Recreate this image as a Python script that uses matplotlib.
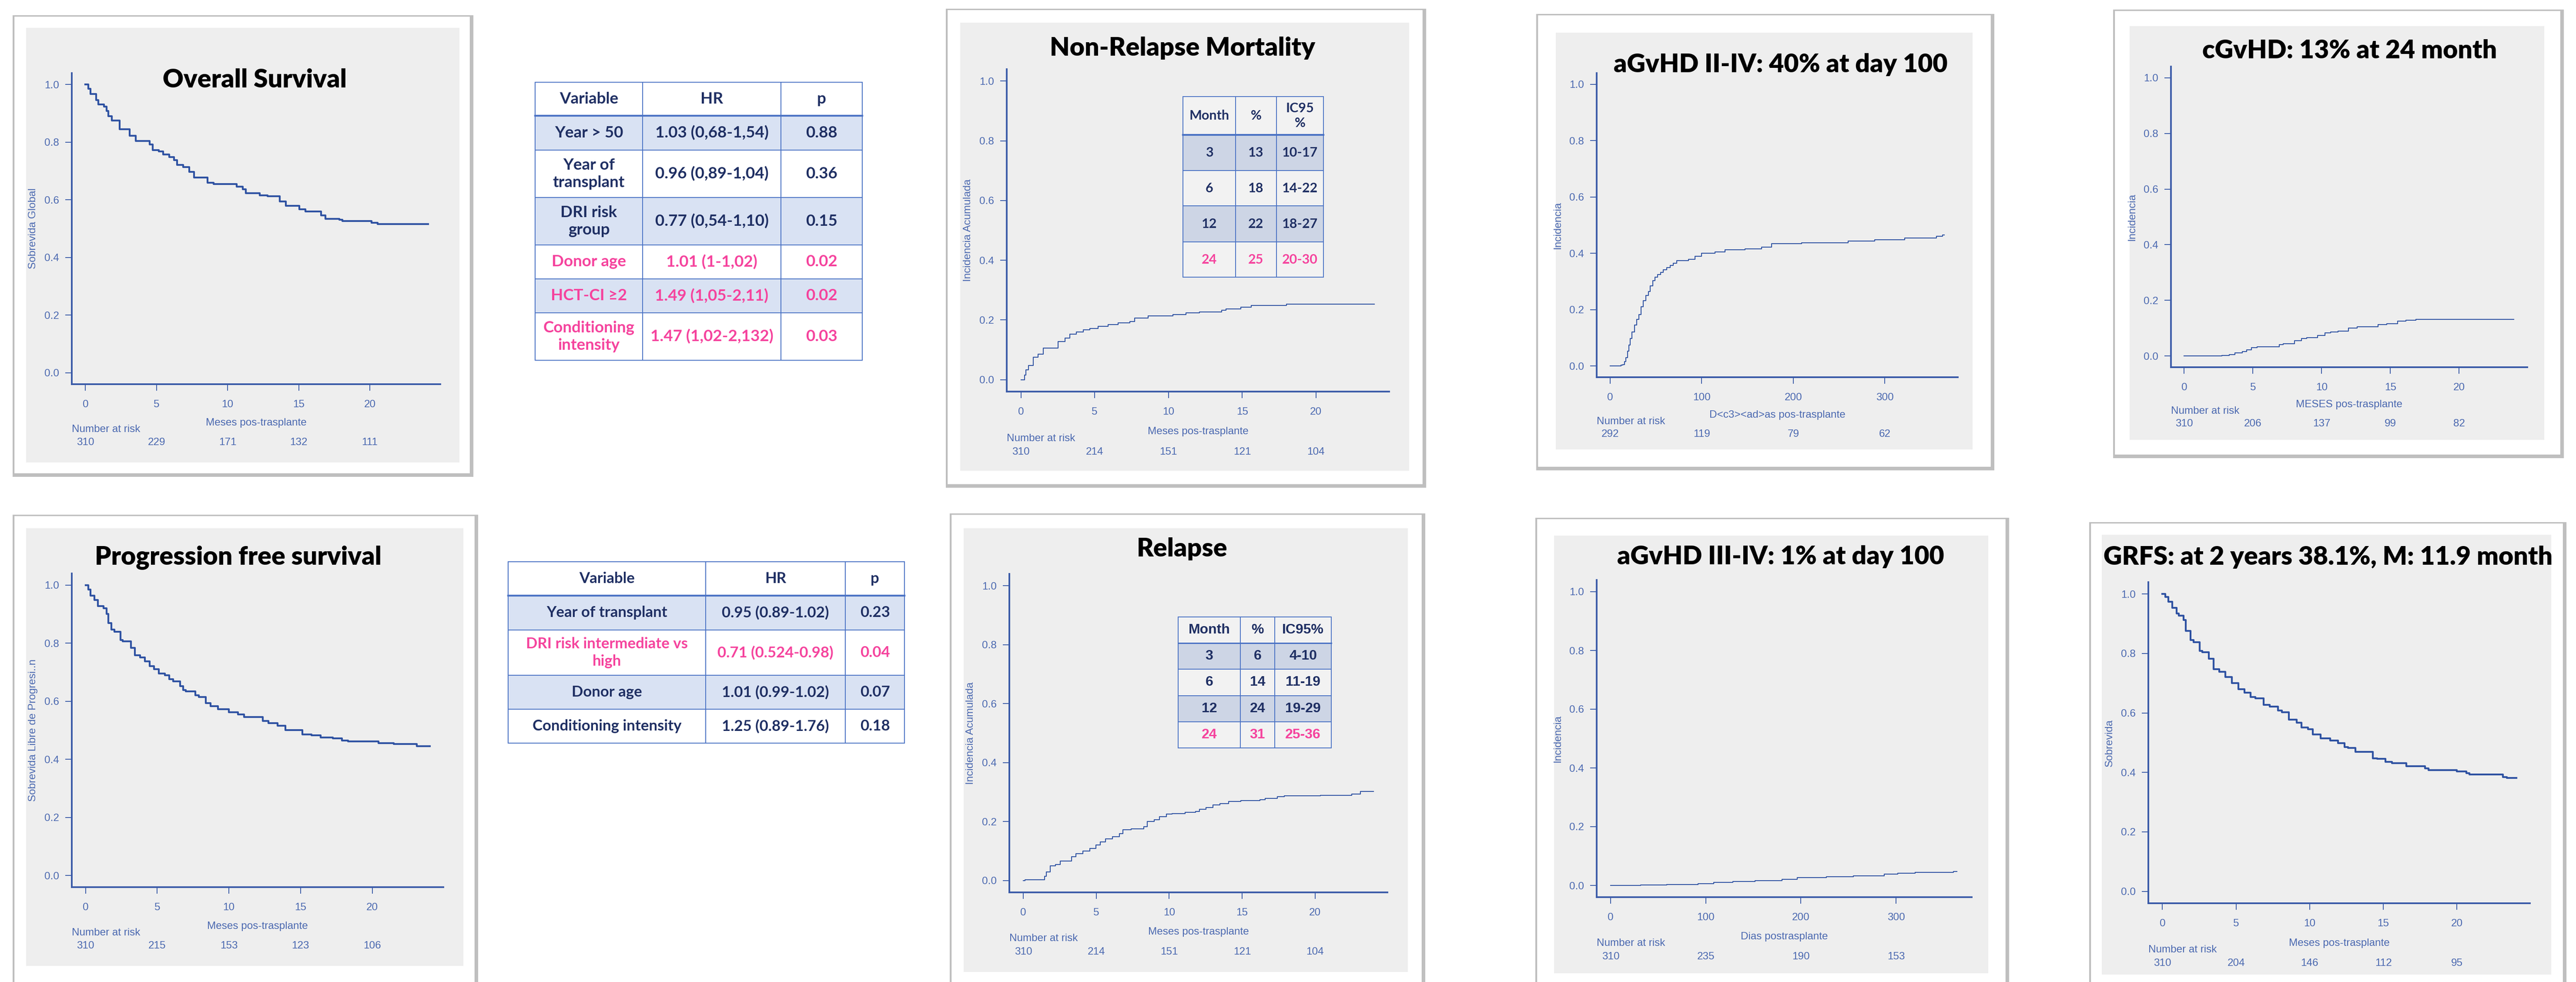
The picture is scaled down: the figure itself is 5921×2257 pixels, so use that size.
import matplotlib.pyplot as plt
from matplotlib.patches import Rectangle
from matplotlib.lines import Line2D

W, H = 5921, 2257

# ---------------- data ----------------
# (time, value) step points of each curve
os_curve = [(0, 1.0), (0.2, 0.985), (0.37, 0.967), (0.75, 0.947), (0.9, 0.932), (1.29, 0.924),
            (1.5, 0.908), (1.61, 0.891), (1.85, 0.876), (2.41, 0.845), (3.12, 0.822), (3.55, 0.804),
            (4.52, 0.792), (4.73, 0.773), (5.16, 0.768), (5.48, 0.758), (5.91, 0.748), (6.24, 0.738),
            (6.45, 0.722), (6.88, 0.714), (7.31, 0.697), (7.63, 0.677), (8.6, 0.659), (9.03, 0.655),
            (10.65, 0.646), (11.08, 0.636), (11.29, 0.623), (12.26, 0.615), (12.8, 0.612), (13.66, 0.595),
            (14.1, 0.580), (15.05, 0.567), (15.48, 0.559), (16.56, 0.546), (16.88, 0.534), (17.85, 0.531),
            (18.06, 0.527), (20.11, 0.521), (20.54, 0.516), (24.1, 0.516)]

pfs_curve = [(0, 1.0), (0.19, 0.985), (0.36, 0.964), (0.62, 0.948), (0.87, 0.927), (1.26, 0.920),
             (1.47, 0.901), (1.58, 0.869), (1.81, 0.847), (2.0, 0.839), (2.43, 0.811), (2.6, 0.806),
             (3.18, 0.784), (3.43, 0.758), (3.82, 0.751), (4.14, 0.737), (4.46, 0.721), (4.78, 0.710),
             (5.1, 0.696), (5.52, 0.689), (5.84, 0.676), (6.1, 0.668), (6.59, 0.652), (6.8, 0.638),
             (7.0, 0.634), (7.65, 0.620), (7.9, 0.615), (8.4, 0.594), (8.72, 0.583), (9.25, 0.573),
             (10.0, 0.562), (10.64, 0.555), (11.07, 0.546), (12.35, 0.532), (12.77, 0.525), (13.41, 0.515),
             (13.95, 0.501), (15.12, 0.486), (15.76, 0.483), (16.4, 0.475), (17.25, 0.472), (17.89, 0.465),
             (18.3, 0.462), (20.45, 0.456), (21.5, 0.453), (23.11, 0.445), (24.03, 0.445)]

grfs_curve = [(0, 1.0), (0.19, 0.99), (0.41, 0.974), (0.67, 0.954), (0.95, 0.935), (1.1, 0.928),
              (1.44, 0.912), (1.59, 0.876), (1.92, 0.845), (2.1, 0.838), (2.52, 0.809), (2.7, 0.804),
              (3.16, 0.783), (3.47, 0.747), (3.85, 0.739), (4.28, 0.721), (4.71, 0.700), (5.15, 0.680),
              (5.58, 0.669), (6.0, 0.654), (6.3, 0.649), (6.87, 0.628), (7.3, 0.621), (7.84, 0.608),
              (8.1, 0.603), (8.59, 0.577), (9.13, 0.567), (9.45, 0.551), (9.88, 0.546), (10.2, 0.528),
              (10.74, 0.514), (11.39, 0.507), (11.92, 0.498), (12.36, 0.485), (12.6, 0.483), (13.11, 0.469),
              (14.3, 0.448), (14.6, 0.446), (15.16, 0.436), (15.6, 0.431), (16.56, 0.421), (17.85, 0.414),
              (18.06, 0.408), (20.0, 0.403), (20.65, 0.398), (20.86, 0.393), (23.12, 0.385), (23.4, 0.382),
              (24.05, 0.382)]

nrm_curve = [(0, 0.0), (0.25, 0.015), (0.34, 0.033), (0.5, 0.048), (0.84, 0.075), (1.17, 0.085),
             (1.51, 0.106), (2.53, 0.127), (2.98, 0.139), (3.32, 0.153), (3.77, 0.159), (4.22, 0.167),
             (4.67, 0.172), (5.24, 0.178), (5.91, 0.185), (6.59, 0.190), (7.38, 0.195), (7.72, 0.206),
             (8.62, 0.214), (10.3, 0.218), (11.2, 0.224), (12.1, 0.227), (13.6, 0.232), (13.9, 0.237),
             (14.9, 0.243), (15.6, 0.248), (18.0, 0.253), (23.97, 0.253)]

relapse_curve = [(0, 0.0), (0.12, 0.003), (1.45, 0.015), (1.59, 0.029), (1.83, 0.050), (2.19, 0.055),
                 (2.54, 0.066), (3.31, 0.081), (3.61, 0.092), (4.09, 0.100), (4.57, 0.109), (4.97, 0.121),
                 (5.28, 0.131), (5.64, 0.142), (6.11, 0.149), (6.59, 0.159), (6.83, 0.173), (7.4, 0.175),
                 (8.25, 0.183), (8.49, 0.201), (8.97, 0.206), (9.32, 0.216), (9.8, 0.225), (10.2, 0.227),
                 (11.1, 0.232), (11.82, 0.235), (12.06, 0.242), (12.53, 0.248), (13.0, 0.256), (13.48, 0.261),
                 (14.08, 0.268), (14.91, 0.271), (16.22, 0.274), (16.58, 0.279), (17.41, 0.284), (17.88, 0.287),
                 (20.38, 0.289), (22.52, 0.294), (23.12, 0.302), (24.0, 0.302)]

agvhd24_curve = [(0, 0.0), (12, 0.003), (14, 0.005), (15.6, 0.015), (17, 0.03), (18.9, 0.053),
                 (20.5, 0.075), (21.8, 0.097), (24, 0.12), (26.5, 0.145), (29, 0.165), (31.6, 0.183),
                 (34, 0.21), (36.4, 0.232), (39, 0.25), (41.8, 0.265), (44, 0.285), (46.5, 0.303),
                 (49, 0.315), (52, 0.324), (55, 0.333), (58.2, 0.341), (62, 0.35), (65.5, 0.357),
                 (69, 0.365), (72.7, 0.374), (85.5, 0.379), (92.7, 0.389), (100, 0.400), (114.5, 0.405),
                 (125.5, 0.413), (147.3, 0.416), (165.5, 0.422), (176.4, 0.435), (209, 0.438), (260, 0.444),
                 (289, 0.449), (321.8, 0.455), (356.4, 0.460), (363, 0.466), (365, 0.466)]

cgvhd_curve = [(0, 0.0), (2.74, 0.002), (3.28, 0.005), (3.7, 0.011), (4.24, 0.016), (4.56, 0.023),
               (4.88, 0.030), (5.31, 0.034), (6.92, 0.042), (7.2, 0.044), (8.03, 0.055), (8.52, 0.063),
               (8.9, 0.066), (9.7, 0.074), (10.24, 0.083), (10.66, 0.087), (11.2, 0.090), (11.95, 0.101),
               (12.59, 0.106), (14.09, 0.113), (14.73, 0.116), (15.52, 0.125), (16.12, 0.129),
               (16.87, 0.132), (23.98, 0.132)]

agvhd34_curve = [(0, 0.0), (31.8, 0.001), (59, 0.003), (92, 0.006), (108.5, 0.010), (128.6, 0.014),
                 (152, 0.017), (180, 0.021), (196, 0.026), (227, 0.029), (255, 0.033), (287.5, 0.038),
                 (302, 0.042), (320, 0.044), (360.6, 0.047), (364, 0.047)]

month_ticks = [0, 5, 10, 15, 20]
day_ticks = [0, 100, 200, 300]
os_risk = [310, 229, 171, 132, 111]
pfs_risk = [310, 215, 153, 123, 106]
nrm_risk = [310, 214, 151, 121, 104]
relapse_risk = [310, 214, 151, 121, 104]
agvhd24_risk = [292, 119, 79, 62]
cgvhd_risk = [310, 206, 137, 99, 82]
agvhd34_risk = [310, 235, 190, 153]
grfs_risk = [310, 204, 146, 112, 95]

# multivariate tables
os_vars = ['Year > 50', 'Year of\ntransplant', 'DRI risk\ngroup', 'Donor age', 'HCT-CI \u22652', 'Conditioning\nintensity']
os_hr = ['1.03 (0,68-1,54)', '0.96 (0,89-1,04)', '0.77 (0,54-1,10)', '1.01 (1-1,02)', '1.49 (1,05-2,11)', '1.47 (1,02-2,132)']
os_p = ['0.88', '0.36', '0.15', '0.02', '0.02', '0.03']
os_sig = [False, False, False, True, True, True]

pfs_vars = ['Year of transplant', 'DRI risk intermediate vs\nhigh', 'Donor age', 'Conditioning intensity']
pfs_hr = ['0.95 (0.89-1.02)', '0.71 (0.524-0.98)', '1.01 (0.99-1.02)', '1.25 (0.89-1.76)']
pfs_p = ['0.23', '0.04', '0.07', '0.18']
pfs_sig = [False, True, False, False]

nrm_month = ['3', '6', '12', '24']
nrm_pct = ['13', '18', '22', '25']
nrm_ci = ['10-17', '14-22', '18-27', '20-30']
relapse_month = ['3', '6', '12', '24']
relapse_pct = ['6', '14', '24', '31']
relapse_ci = ['4-10', '11-19', '19-29', '25-36']

# ---------------- styling ----------------
AX_BLUE = '#3a5aa8'
CURVE = '#2f52a2'
TXT_BLUE = '#4a68b0'
NAVY = '#1f2f63'
PINK = '#f5439d'
RULE = '#4a72c4'
LIGHT = '#d9e2f3'
PANEL_GRAY = '#eeeeee'

plt.rcParams['font.family'] = ['Liberation Sans', 'DejaVu Sans']

fig = plt.figure(figsize=(W / 100, H / 100), dpi=100)


def fx(x):
    return x / W


def fy(y):
    return 1 - y / H


def rect(x0, y0, x1, y1, **kw):
    r = Rectangle((fx(x0), fy(y1)), (x1 - x0) / W, (y1 - y0) / H, transform=fig.transFigure, **kw)
    fig.add_artist(r)
    return r


def panel(frame, gray):
    x0, y0, x1, y1 = frame
    rect(x0 - 3, y0 - 2, x1 + 8, y1 + 8, facecolor='#8c8c8c', edgecolor='none', alpha=0.55, zorder=-3)
    rect(x0, y0, x1, y1, facecolor='white', edgecolor='#bdbdbd', lw=1.0, zorder=-2)
    rect(*gray, facecolor=PANEL_GRAY, edgecolor='none', zorder=-1)


def km(box, curve, xmax, xticks, risk, ylabel, xlabel, title, title_pos, lw):
    x0, y0, x1, y1 = box
    ax = fig.add_axes([fx(x0), fy(y1), (x1 - x0) / W, (y1 - y0) / H])
    ax.patch.set_visible(False)
    t, v = zip(*curve)
    ax.step(t, v, where='post', color=CURVE, lw=lw)
    ax.set_xlim(-0.04 * xmax, 1.04 * xmax)
    ax.set_ylim(-0.04, 1.04)
    for side in ['top', 'right']:
        ax.spines[side].set_visible(False)
    for side in ['left', 'bottom']:
        ax.spines[side].set_color(AX_BLUE)
        ax.spines[side].set_linewidth(2.8)
    ax.set_xticks(xticks)
    ax.set_yticks([0, 0.2, 0.4, 0.6, 0.8, 1.0])
    ax.set_yticklabels(['0.0', '0.2', '0.4', '0.6', '0.8', '1.0'])
    ax.tick_params(direction='out', length=11, width=1.4, color=AX_BLUE,
                   labelcolor=TXT_BLUE, labelsize=17.5)
    ax.tick_params(axis='x', pad=15)
    ax.tick_params(axis='y', pad=10)

    s = (y1 - y0) / 715 * 0.72  # px offsets -> points
    ax.annotate(xlabel, xy=(0.5, 0), xycoords='axes fraction', xytext=(0, -89 * s),
                textcoords='offset points', ha='center', va='center', fontsize=17.5, color=TXT_BLUE)
    ax.annotate('Number at risk', xy=(0, 0), xycoords='axes fraction', xytext=(0, -104 * s),
                textcoords='offset points', ha='left', va='center', fontsize=17.5, color=TXT_BLUE)
    for xt, n in zip(xticks, risk):
        ax.annotate(str(n), xy=(xt, 0), xycoords=('data', 'axes fraction'), xytext=(0, -134 * s),
                    textcoords='offset points', ha='center', va='center', fontsize=17.5, color=TXT_BLUE)
    ax.annotate(ylabel, xy=(0, 0.5), xycoords='axes fraction', xytext=(-64, 0),
                textcoords='offset points', ha='center', va='center', rotation=90,
                fontsize=17.5, color=TXT_BLUE)
    fig.text(fx(title_pos[0]), fy(title_pos[1]), title, ha='center', va='baseline',
             fontsize=42.5, fontweight='heavy', family=['Lato', 'DejaVu Sans'], color='black')
    return ax


def table(xs, ys, rows, fills, colors, size, family, header_lw, linespacing=1.25):
    for i in range(len(ys) - 1):
        for j in range(len(xs) - 1):
            rect(xs[j], ys[i], xs[j + 1], ys[i + 1], facecolor=fills[i], edgecolor=RULE, lw=1.4, zorder=3)
            fig.text(fx((xs[j] + xs[j + 1]) / 2), fy((ys[i] + ys[i + 1]) / 2), rows[i][j],
                     ha='center', va='center', ma='center', fontsize=size, fontweight='bold',
                     family=family, color=colors[i], linespacing=linespacing, zorder=5)
    fig.add_artist(Line2D([fx(xs[0]), fx(xs[-1])], [fy(ys[1])] * 2, transform=fig.transFigure,
                          color=RULE, lw=header_lw, zorder=4))


# ---------------- panels ----------------
panel((32, 37, 1080, 1088), (60, 64, 1056, 1063))
km((165, 168, 1012, 883), os_curve, 24, month_ticks, os_risk, 'Sobrevida Global',
   'Meses pos-trasplante', 'Overall Survival', (586, 201), 3.0)

panel((32, 1185, 1091, 2275), (60, 1214, 1065, 2220))
km((165, 1318, 1019, 2039), pfs_curve, 24, month_ticks, pfs_risk, 'Sobrevida Libre de Progresi..n',
   'Meses pos-trasplante', 'Progression free survival', (548, 1297), 3.0)

panel((2177, 22, 3270, 1113), (2207, 52, 3239, 1082))
km((2314, 159, 3193, 900), nrm_curve, 24, month_ticks, nrm_risk, 'Incidencia Acumulada',
   'Meses pos-trasplante', 'Non-Relapse Mortality', (2718, 128), 1.5)

panel((2186, 1182, 3268, 2275), (2215, 1214, 3236, 2234))
km((2320, 1319, 3189, 2051), relapse_curve, 24, month_ticks, relapse_risk, 'Incidencia Acumulada',
   'Meses pos-trasplante', 'Relapse', (2717, 1279), 1.5)

panel((3534, 34, 4576, 1073), (3576, 75, 4534, 1033))
km((3670, 168, 4500, 867), agvhd24_curve, 365, day_ticks, agvhd24_risk, 'Incidencia',
   'D<c3><ad>as pos-trasplante', 'aGvHD II-IV: 40% at day 100', (4093, 166), 1.5)

panel((3532, 1192, 4610, 2275), (3572, 1231, 4570, 2237))
km((3670, 1333, 4532, 2062), agvhd34_curve, 365, day_ticks, agvhd34_risk, 'Incidencia',
   'Dias postrasplante', 'aGvHD III-IV: 1% at day 100', (4093, 1297), 1.5)

panel((4860, 24, 5885, 1045), (4895, 60, 5848, 1011))
km((4990, 153, 5809, 844), cgvhd_curve, 24, month_ticks, cgvhd_risk, 'Incidencia',
   'MESES pos-trasplante', 'cGvHD: 13% at 24 month', (5401, 134), 1.5)

panel((4805, 1202, 5891, 2275), (4831, 1229, 5864, 2240))
km((4938, 1338, 5815, 2076), grfs_curve, 24, month_ticks, grfs_risk, 'Sobrevida',
   'Meses pos-trasplante', 'GRFS: at 2 years 38.1%, M: 11.9 month', (5351, 1298), 3.0)

# ---------------- tables ----------------
calibri_like = ['Lato', 'DejaVu Sans']

rows = [['Variable', 'HR', 'p']] + [list(r) for r in zip(os_vars, os_hr, os_p)]
fills = ['white'] + [LIGHT if i % 2 == 0 else 'white' for i in range(len(os_vars))]
colors = [NAVY] + [PINK if s else NAVY for s in os_sig]
table([1230, 1477, 1795, 1982], [189, 266, 345, 454, 563, 641, 719, 828],
      rows, fills, colors, 26.5, calibri_like, 3.0)

rows = [['Variable', 'HR', 'p']] + [list(r) for r in zip(pfs_vars, pfs_hr, pfs_p)]
fills = ['white'] + [LIGHT if i % 2 == 0 else 'white' for i in range(len(pfs_vars))]
colors = [NAVY] + [PINK if s else NAVY for s in pfs_sig]
table([1168, 1622, 1943, 2079], [1291, 1369, 1448, 1552, 1630, 1708],
      rows, fills, colors, 25, calibri_like, 3.0, linespacing=1.3)

rows = [['Month', '%', 'IC95\n%']] + [list(r) for r in zip(nrm_month, nrm_pct, nrm_ci)]
fills = ['#f2f2f2', '#cdd5e5', '#f2f2f2', '#cdd5e5', '#f2f2f2']
colors = [NAVY, NAVY, NAVY, NAVY, PINK]
table([2719, 2840, 2934, 3042], [222, 310, 392, 473, 556, 637],
      rows, fills, colors, 22, calibri_like, 3.0)

rows = [['Month', '%', 'IC95%']] + [list(r) for r in zip(relapse_month, relapse_pct, relapse_ci)]
table([2708, 2851, 2930, 3060], [1418, 1478, 1538, 1599, 1659, 1719],
      rows, fills, colors, 23, ['Liberation Sans', 'DejaVu Sans'], 2.2)

fig.savefig('out.png', dpi=100)
